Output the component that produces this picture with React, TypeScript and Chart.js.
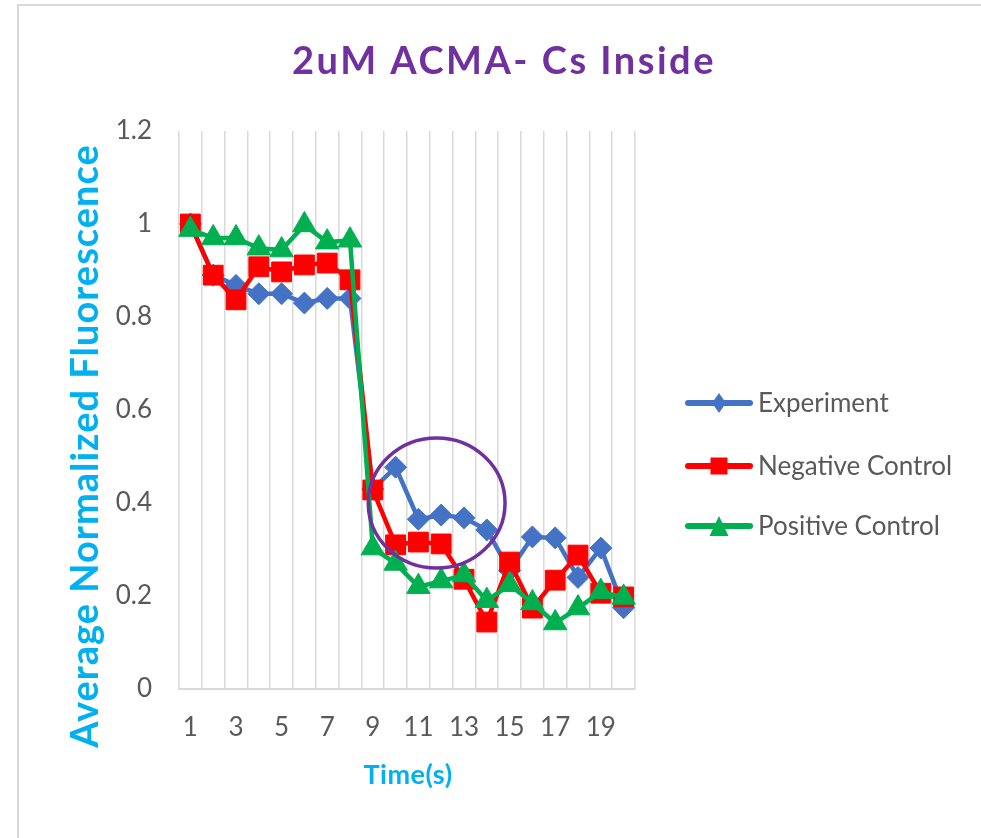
import React, { useEffect, useRef } from 'react';
import { Chart, registerables } from 'chart.js';

Chart.register(...registerables);

// ---- data ----
const TIME = ['1', '2', '3', '4', '5', '6', '7', '8', '9', '10', '11', '12', '13', '14', '15', '16', '17', '18', '19', '20'];
const EXPERIMENT = [1.0, 0.89, 0.868, 0.85, 0.85, 0.83, 0.84, 0.84, 0.43, 0.477, 0.365, 0.374, 0.368, 0.342, 0.255, 0.327, 0.325, 0.24, 0.303, 0.175];
const NEGATIVE = [1.0, 0.89, 0.837, 0.908, 0.897, 0.912, 0.916, 0.88, 0.428, 0.31, 0.316, 0.312, 0.236, 0.144, 0.273, 0.174, 0.234, 0.288, 0.206, 0.198];
const POSITIVE = [0.988, 0.97, 0.97, 0.948, 0.944, 0.998, 0.961, 0.965, 0.303, 0.27, 0.22, 0.232, 0.245, 0.19, 0.224, 0.185, 0.142, 0.174, 0.209, 0.197];
const SERIES_NAMES = ['Experiment', 'Negative Control', 'Positive Control'];
const Y_MIN = 0;
const Y_MAX = 1.2;
const Y_STEP = 0.2;
const TITLE = '2uM ACMA- Cs Inside';
const Y_TITLE = 'Average Normalized Fluorescence';
const X_TITLE = 'Time(s)';
// highlight ellipse in data units (category index, value)
const HIGHLIGHT = { cx: 10.8, cy: 0.4, rx: 3.0, ry: 0.14 };

const BLUE = '#4472c4';
const RED = '#ff0000';
const GREEN = '#00b050';
const PURPLE = '#7030a0';
const CYAN = '#00b0f0';
const GREY_TEXT = '#595959';
const GRID = '#d9d9d9';
const FONT = 'Lato, "Open Sans", sans-serif';

function drawMarker(ctx: CanvasRenderingContext2D, style: string, x: number, y: number, color: string) {
  ctx.save();
  ctx.fillStyle = color;
  ctx.beginPath();
  if (style === 'rectRot') {
    ctx.moveTo(x, y - 10);
    ctx.lineTo(x + 7, y);
    ctx.lineTo(x, y + 10);
    ctx.lineTo(x - 7, y);
  } else if (style === 'rect') {
    ctx.rect(x - 8.5, y - 8.5, 17, 17);
  } else {
    ctx.moveTo(x, y - 10);
    ctx.lineTo(x + 9.5, y + 10);
    ctx.lineTo(x - 9.5, y + 10);
  }
  ctx.closePath();
  ctx.fill();
  ctx.restore();
}

const decorPlugin = {
  id: 'decor',
  afterDatasetsDraw(chart: any) {
    const ctx: CanvasRenderingContext2D = chart.ctx;
    const xs = chart.scales.x;
    const ys = chart.scales.y;
    const cx = xs.getPixelForValue(HIGHLIGHT.cx);
    const cy = ys.getPixelForValue(HIGHLIGHT.cy);
    const rx = Math.abs(xs.getPixelForValue(HIGHLIGHT.cx + HIGHLIGHT.rx) - cx);
    const ry = Math.abs(ys.getPixelForValue(HIGHLIGHT.cy + HIGHLIGHT.ry) - cy);
    ctx.save();
    ctx.strokeStyle = PURPLE;
    ctx.lineWidth = 3.5;
    ctx.beginPath();
    ctx.ellipse(cx, cy, rx, ry, 0, 0, Math.PI * 2);
    ctx.stroke();
    ctx.restore();
  },
  afterDraw(chart: any) {
    const ctx: CanvasRenderingContext2D = chart.ctx;
    const area = chart.chartArea;
    ctx.save();
    // title
    ctx.fillStyle = PURPLE;
    ctx.font = `bold 38px ${FONT}`;
    (ctx as any).letterSpacing = '2.5px';
    ctx.textAlign = 'center';
    ctx.textBaseline = 'alphabetic';
    ctx.fillText(TITLE, 504, 74);
    (ctx as any).letterSpacing = '0px';
    // x title
    ctx.fillStyle = CYAN;
    ctx.font = `bold 27px ${FONT}`;
    (ctx as any).letterSpacing = '0.5px';
    ctx.fillText(X_TITLE, (area.left + area.right) / 2 + 1, 784);
    // y title
    ctx.save();
    ctx.translate(98, 446);
    ctx.rotate(-Math.PI / 2);
    ctx.font = `bold 38px ${FONT}`;
    (ctx as any).letterSpacing = '1px';
    ctx.fillText(Y_TITLE, 0, 0);
    ctx.restore();
    (ctx as any).letterSpacing = '0px';
    // legend
    const ds = chart.data.datasets;
    const rows = [403, 466, 526];
    ds.forEach((d: any, i: number) => {
      const y = rows[i];
      ctx.strokeStyle = d.borderColor;
      ctx.lineWidth = 6;
      ctx.lineCap = 'round';
      ctx.beginPath();
      ctx.moveTo(688, y);
      ctx.lineTo(750, y);
      ctx.stroke();
      drawMarker(ctx, d.pointStyle, 719, y, d.borderColor);
      ctx.fillStyle = GREY_TEXT;
      ctx.font = `26px ${FONT}`;
      ctx.textAlign = 'left';
      ctx.textBaseline = 'alphabetic';
      ctx.fillText(d.label, 758, y + 9);
    });
    ctx.restore();
  },
};

export default function App() {
  const ref = useRef<HTMLCanvasElement | null>(null);
  useEffect(() => {
    if (!ref.current) return;
    const common = {
      borderWidth: 4.5,
      borderJoinStyle: 'round' as const,
      borderCapStyle: 'round' as const,
      tension: 0,
      pointBorderWidth: 1,
      fill: false,
    };
    const chart = new Chart(ref.current, {
      type: 'line',
      data: {
        labels: TIME,
        datasets: [
          {
            ...common,
            label: SERIES_NAMES[0],
            data: EXPERIMENT,
            borderColor: BLUE,
            backgroundColor: BLUE,
            pointBackgroundColor: BLUE,
            pointBorderColor: BLUE,
            pointStyle: 'rectRot',
            pointRadius: 11,
            order: 3,
          },
          {
            ...common,
            label: SERIES_NAMES[1],
            data: NEGATIVE,
            borderColor: RED,
            backgroundColor: RED,
            pointBackgroundColor: RED,
            pointBorderColor: RED,
            pointStyle: 'rect',
            pointRadius: 14,
            order: 2,
          },
          {
            ...common,
            label: SERIES_NAMES[2],
            data: POSITIVE,
            borderColor: GREEN,
            backgroundColor: GREEN,
            pointBackgroundColor: GREEN,
            pointBorderColor: GREEN,
            pointStyle: 'triangle',
            pointRadius: 13.5,
            order: 1,
          },
        ],
      },
      options: {
        animation: false,
        responsive: false,
        events: [],
        layout: { autoPadding: false, padding: { left: 0, top: 131, right: 346, bottom: 0 } },
        plugins: {
          legend: { display: false },
          title: { display: false },
          tooltip: { enabled: false },
        },
        scales: {
          x: {
            type: 'category',
            offset: true,
            grid: { display: true, offset: true, color: GRID, lineWidth: 1.5, drawTicks: false },
            border: { display: true, color: GRID, width: 2 },
            ticks: {
              autoSkip: false,
              maxRotation: 0,
              padding: 23,
              color: GREY_TEXT,
              font: { family: FONT, size: 26 },
              callback: (_v: any, i: number) => (i % 2 === 0 ? TIME[i] : ''),
            },
            afterFit: (s: any) => {
              s.height = 149;
            },
          },
          y: {
            min: Y_MIN,
            max: Y_MAX,
            grid: { display: false, drawTicks: false },
            border: { display: false },
            ticks: {
              stepSize: Y_STEP,
              padding: 27,
              color: GREY_TEXT,
              font: { family: FONT, size: 26 },
              callback: (v: any) => String(Number(Number(v).toFixed(1))),
            },
            afterFit: (s: any) => {
              s.width = 179;
            },
          },
        },
      },
      plugins: [decorPlugin],
    });
    return () => chart.destroy();
  }, []);

  return (
    <div>
      <div
        style={{
          position: 'fixed',
          left: 17,
          top: 4,
          width: 1100,
          height: 1000,
          border: `2px solid ${GRID}`,
          boxSizing: 'border-box',
        }}
      />
      <canvas
        ref={ref}
        width={981}
        height={838}
        style={{ position: 'fixed', left: 0, top: 0, width: 981, height: 838 }}
      />
    </div>
  );
}
